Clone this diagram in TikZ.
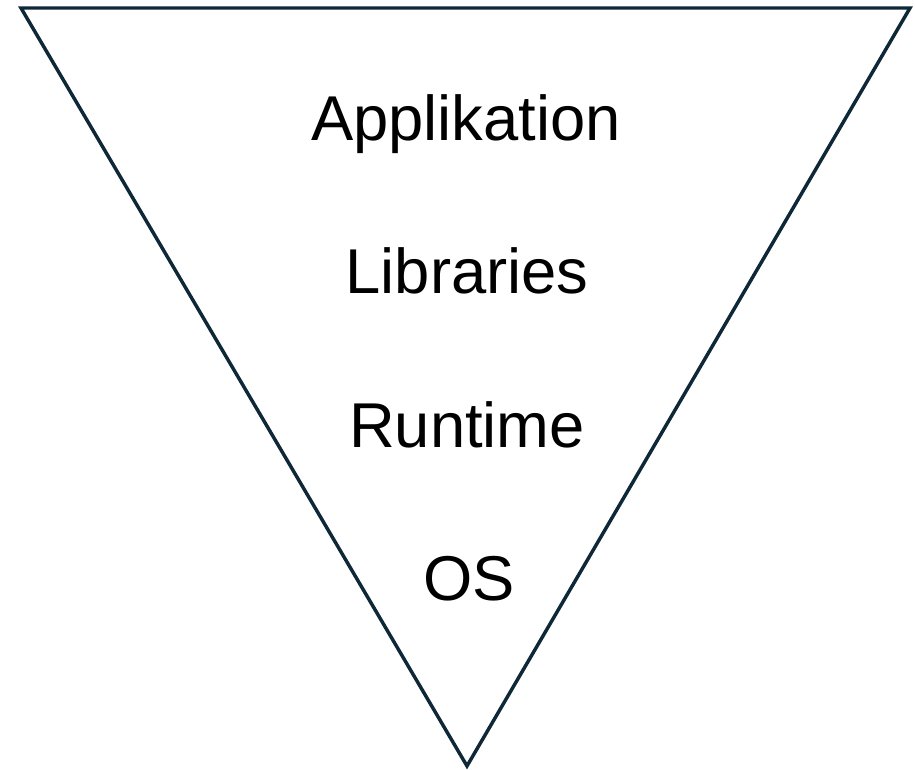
\documentclass[tikz,border=0pt]{standalone}
\usepackage{fontspec}
\setmainfont{Liberation Sans}
\usepackage{tikz}
\usetikzlibrary{positioning}
\definecolor{darknavy}{HTML}{0E2837}
\tikzset{
	funnel/.style   = {draw=darknavy, line width=2.6pt, line join=miter},
	layer/.style    = {font=\fontsize{47.5}{52}\selectfont, anchor=base, inner sep=0pt},
}

\begin{document}
\begin{tikzpicture}[ x=0.75pt,                       %<--one unit is one pixel
					y=-0.75pt,                       %<--y runs downwards like the image
					node distance=153px ]            %<--distance between the layers

	\useasboundingbox (0,0) rectangle (915,770);

	\draw%-----------------------------------------------------------------------------------------
	%Drawing the Corners:
	coordinate (topLeft) at (21,8)
	coordinate (topRight) at (910,8)
	coordinate (tip) at (467,766)
	%Drawing the Layer Labels:
	node(app) at (466,141) [layer] {Applikation}
	node(lib) at (467,294) [layer] {Libraries}
	node(run) at (467,447) [layer] {Runtime}
	node(os)  at (469,600) [layer] {OS}
	;%---------------------------------------------------------------------------------------------

	%Joining the Corners
	\draw[funnel] (topLeft) -- (topRight) -- (tip) -- cycle;

\end{tikzpicture}
\end{document}
